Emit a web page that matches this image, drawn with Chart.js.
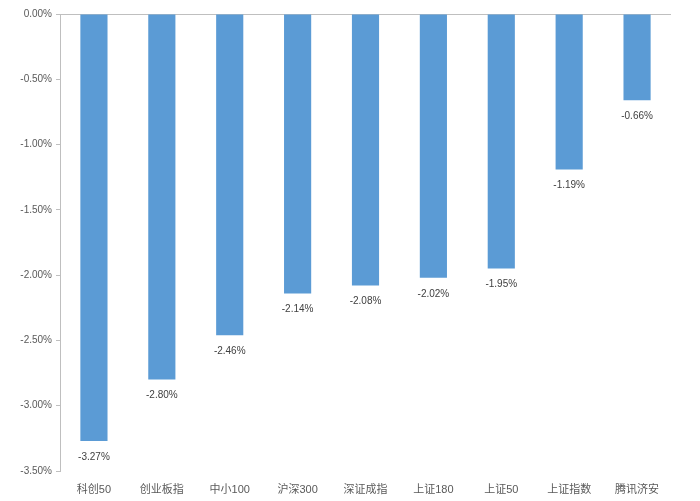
<!DOCTYPE html>
<html>
<head>
<meta charset="utf-8">
<script src="https://cdn.jsdelivr.net/npm/chart.js@4"></script>
<style>
  html, body { margin: 0; padding: 0; background: #fff; }
  #wrap { width: 700px; height: 501px; }
</style>
</head>
<body>
<div id="wrap"><canvas id="myChart"></canvas></div>
<script>
let names = ["科创50", "创业板指", "中小100", "沪深300", "深证成指", "上证180", "上证50", "上证指数", "腾讯济安"];
let changes = [-3.27, -2.80, -2.46, -2.14, -2.08, -2.02, -1.95, -1.19, -0.66];
let yTicks = [0, -0.5, -1, -1.5, -2, -2.5, -3, -3.5];

let fontFam = "'Liberation Sans', 'Noto Sans CJK SC', sans-serif";

// --- labels under each bar end ---
let barLabels = {
  id: "barLabels",
  afterDatasetsDraw(chart) {
    let ctx = chart.ctx;
    let meta = chart.getDatasetMeta(0);
    ctx.save();
    ctx.font = "10px " + fontFam;
    ctx.fillStyle = "#404040";
    ctx.textAlign = "center";
    ctx.textBaseline = "middle";
    meta.data.forEach(function (bar, i) {
      ctx.fillText(changes[i].toFixed(2) + "%", bar.x, bar.y + 16);
    });
    ctx.restore();
  }
};

new Chart("myChart", {
  type: "bar",
  data: {
    labels: names,
    datasets: [{
      backgroundColor: "#5b9bd5",
      data: changes,
      barPercentage: 0.4,
      categoryPercentage: 1
    }]
  },
  options: {
    responsive: true,
    maintainAspectRatio: false,
    animation: false,
    layout: { padding: { top: 14, right: 29, left: 0, bottom: 0 } },
    plugins: { legend: { display: false }, tooltip: { enabled: false } },
    scales: {
      x: {
        grid: { display: false },
        border: { display: false },
        ticks: { color: "#595959", font: { size: 11, family: fontFam }, padding: 4, maxRotation: 0 },
        afterFit: function (s) { s.height = 30; }
      },
      y: {
        min: -3.5,
        max: 0,
        afterBuildTicks: function (s) { s.ticks = yTicks.map(function (v) { return { value: v }; }); },
        grid: {
          drawOnChartArea: true,
          color: function (c) { return c.tick && c.tick.value === 0 ? "#bfbfbf" : "rgba(0,0,0,0)"; },
          tickColor: "#bfbfbf",
          tickLength: 4
        },
        border: { display: true, color: "#bfbfbf" },
        ticks: {
          color: "#595959",
          font: { size: 10, family: fontFam },
          padding: 4,
          callback: function (v) { return v.toFixed(2) + "%"; }
        },
        afterFit: function (s) { s.width = 60; }
      }
    }
  },
  plugins: [barLabels]
});
</script>
</body>
</html>
